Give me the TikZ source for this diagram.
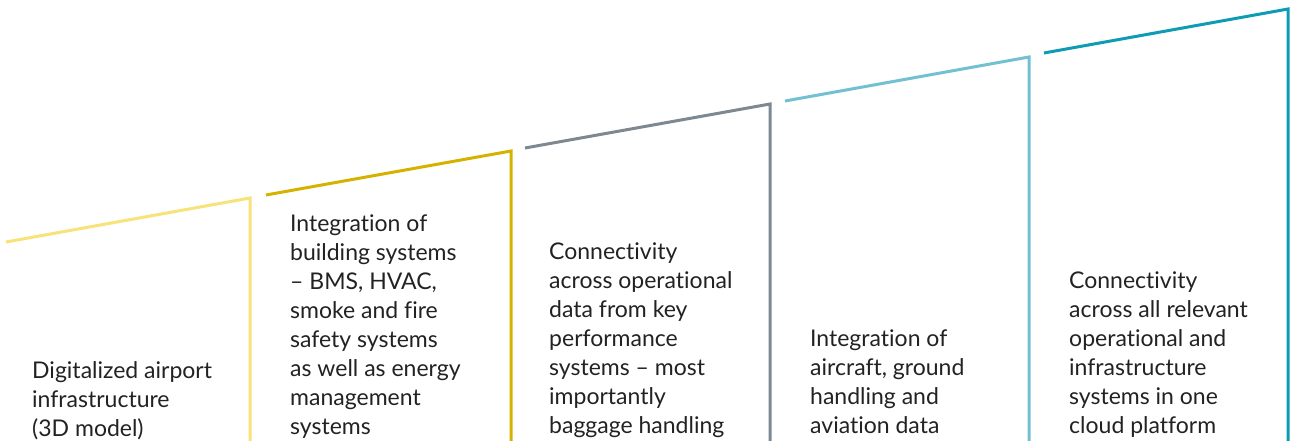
\documentclass[tikz,border=0pt]{standalone}
\usepackage{fontspec}
\setmainfont{Lato}[Ligatures={NoCommon}]
\definecolor{cA}{HTML}{F8E27A}
\definecolor{cB}{HTML}{D6B200}
\definecolor{cC}{HTML}{7D8891}
\definecolor{cD}{HTML}{72C0D2}
\definecolor{cE}{HTML}{0E9BB4}
\definecolor{txt}{HTML}{222222}
\tikzset{
  stage/.style={line width=3pt, line join=miter},
  label/.style={anchor=south west, inner sep=0pt, text depth=0pt, align=left,
    text=txt, font=\fontsize{23}{29}\selectfont},
}
\begin{document}
\begin{tikzpicture}[x=1pt,y=-1pt]
\useasboundingbox (0,0) rectangle (1296,441);
% stage corners
\coordinate (a0) at (6,242);   \coordinate (a1) at (250,198);  \coordinate (a2) at (250,441);
\coordinate (b0) at (266,195); \coordinate (b1) at (511,151);  \coordinate (b2) at (511,441);
\coordinate (c0) at (525,148); \coordinate (c1) at (770,104);  \coordinate (c2) at (770,441);
\coordinate (d0) at (785,101); \coordinate (d1) at (1029,57);  \coordinate (d2) at (1029,441);
\coordinate (e0) at (1044,53); \coordinate (e1) at (1288,9);   \coordinate (e2) at (1288,441);
\draw[stage, cA] (a0) -- (a1) -- (a2);
\draw[stage, cB] (b0) -- (b1) -- (b2);
\draw[stage, cC] (c0) -- (c1) -- (c2);
\draw[stage, cD] (d0) -- (d1) -- (d2);
\draw[stage, cE] (e0) -- (e1) -- (e2);
\node[label] (ta) at (32,437) {Digitalized airport\\infrastructure\\(3D model)};
\node[label] (tb) at (290,435) {Integration of\\building systems\\– BMS, HVAC,\\smoke and fire\\safety systems\\as well as energy\\management\\systems};
\node[label] (tc) at (549,434) {Connectivity\\across operational\\data from key\\performance\\systems – most\\importantly\\baggage handling};
\node[label] (td) at (810,434) {Integration of\\aircraft, ground\\handling and\\aviation data};
\node[label] (te) at (1069,434) {Connectivity\\across all relevant\\operational and\\infrastructure\\systems in one\\cloud platform};
\end{tikzpicture}
\end{document}
